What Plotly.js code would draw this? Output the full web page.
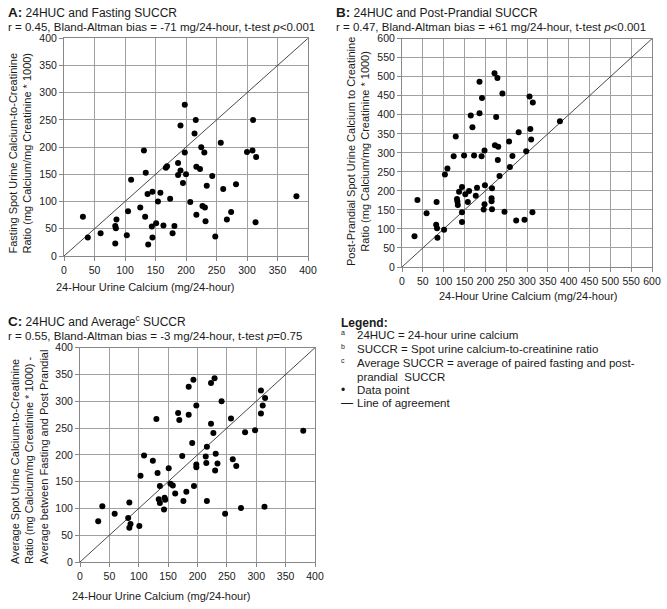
<!DOCTYPE html>
<html>
<head>
<meta charset="utf-8">
<script src="https://cdn.plot.ly/plotly-3.0.1.min.js"></script>
<style>
html,body{margin:0;padding:0;background:#fff;}
#chart{width:667px;height:609px;}
</style>
</head>
<body>
<div id="chart"></div>
<script>
// ---------- Data ----------
// Panel A: 24-hour urine calcium vs fasting SUCCR
const huc24A = [31,39,60,84,86,84,85,103,105,110,125,131,133,134,137,138,144,145,145,151,154,158,163,167,169,174,178,181,187,187,191,191,195,198,198,200,207,214,216,217,217,223,225,227,230,231,232,234,243,248,257,261,267,274,282,300,309,310,314,315,381];
const fastingSuccr = [72,34,42,23,67,55,51,38,82,140,89,194,72,153,114,21,54,118,34,60,100,116,56,162,165,105,42,55,171,149,240,157,134,278,190,150,99,225,250,164,76,160,200,92,190,89,64,129,147,36,208,123,67,81,132,191,194,250,62,182,110];

// Panel B: 24-hour urine calcium vs post-prandial SUCCR
const huc24B = [30,37,59,83,82,84,85,101,103,109,124,129,132,133,134,137,144,144,144,149,152,158,161,165,169,173,177,180,186,186,191,192,196,198,199,198,216,215,215,216,222,229,226,223,231,230,234,241,246,257,259,265,274,280,294,298,306,308,310,313,314,379];
const postPrandialSuccr = [81,176,141,171,111,102,77,98,243,259,291,343,179,172,163,198,210,144,118,293,191,171,200,398,367,293,187,208,487,404,291,444,151,306,215,165,207,181,173,152,509,497,394,320,316,281,239,456,145,330,263,292,122,354,124,304,448,363,335,144,432,383];

// Panel C: 24-hour urine calcium vs average SUCCR
const huc24C = [31,38,59,84,82,84,86,101,103,109,124,130,132,134,136,136,143,144,145,151,154,158,162,167,169,174,176,181,185,185,191,193,194,198,198,198,216,214,215,216,223,229,223,227,231,234,230,241,247,257,260,266,274,281,298,308,308,311,315,314,380];
const averageSuccr = [76,104,90,111,82,64,71,67,161,199,189,267,166,117,110,142,98,120,116,175,146,143,128,278,265,198,114,131,327,275,222,340,142,292,182,177,215,197,185,114,334,343,258,241,202,184,171,300,90,268,192,179,101,242,246,277,320,292,306,103,245];

// Axis extents / ticks
const axisMaxAC = 400;
const axisMaxB = 600;
const tickStep = 50;

// Texts
const titleA1 = "<b><span style=\"font-size:13.5px\">A:</span></b> 24HUC and Fasting SUCCR";
const titleA2 = "r = 0.45, Bland-Altman bias = -71 mg/24-hour, t-test <i>p</i>&lt;0.001";
const titleB1 = "<b><span style=\"font-size:13.5px\">B:</span></b> 24HUC and Post-Prandial SUCCR";
const titleB2 = "r = 0.47, Bland-Altman bias = +61 mg/24-hour, t-test <i>p</i>&lt;0.001";
const titleC1 = "<b><span style=\"font-size:13.5px\">C:</span></b> 24HUC and Average<sup>c</sup> SUCCR";
const titleC2 = "r = 0.55, Bland-Altman bias = -3 mg/24-hour, t-test <i>p</i>=0.75";
const xTitle = "24-Hour Urine Calcium (mg/24-hour)";
const yTitleA = "Fasting Spot Urine Calcium-to-Creatinine<br>Ratio (mg Calcium/mg Creatinine * 1000)";
const yTitleB = "Post-Prandial Spot Urine Calcium to Creatinine<br>Ratio (mg Calcium/mg Creatinine * 1000)";
const yTitleC = "Average Spot Urine Calcium-to-Creatinine<br>Ratio (mg Calcium/mg Creatinine * 1000) -<br>Average between Fasting and Post Prandial";
const legendTitle = "<b>Legend:</b>";
const legendMarks = ["a","b","c","","•","—"];
const legendLines = ["24HUC = 24-hour urine calcium","SUCCR = Spot urine calcium-to-creatinine ratio","Average SUCCR = average of paired fasting and post-","prandial  SUCCR","Data point","Line of agreement"];

// ---------- Layout helpers ----------
const W = 667, H = 609;
const FONT = '"Liberation Sans", Arial, Helvetica, sans-serif';
const TXT = '#1a1a1a';
const px = v => v / W;
const py = v => 1 - v / H;

function axisStyle(max, domain, anchor) {
  return {
    domain: domain, anchor: anchor, range: [0, max], dtick: tickStep, tick0: 0,
    showgrid: true, gridcolor: '#a0a0a0', gridwidth: 1,
    showline: true, mirror: true, linecolor: '#888', linewidth: 1,
    ticks: 'outside', ticklen: 4, tickcolor: '#888',
    tickfont: {family: FONT, size: 10.5, color: TXT},
    zeroline: false, fixedrange: true
  };
}

const traces = [];
function addPanel(xs, ys, max, xa, ya) {
  traces.push({type:'scatter', mode:'lines', x:[0, max], y:[0, max], xaxis:xa, yaxis:ya,
    line:{color:'#333', width:0.9}, hoverinfo:'skip'});
  traces.push({type:'scatter', mode:'markers', x:xs, y:ys, xaxis:xa, yaxis:ya,
    marker:{color:'#000', size:6}});
}
addPanel(huc24A, fastingSuccr, axisMaxAC, 'x', 'y');
addPanel(huc24B, postPrandialSuccr, axisMaxB, 'x2', 'y2');
addPanel(huc24C, averageSuccr, axisMaxAC, 'x3', 'y3');

const annotations = [];
function ann(text, x, y, o) {
  annotations.push(Object.assign({
    text: text, xref: 'paper', yref: 'paper', x: px(x), y: py(y),
    xanchor: 'left', yanchor: 'middle', showarrow: false,
    font: {family: FONT, size: 11.5, color: TXT}
  }, o || {}));
}
// panel titles
ann(titleA1, 6, 13, {font:{family:FONT,size:12,color:TXT}});
ann(titleA2, 6, 26.5);
ann(titleB1, 334, 13, {font:{family:FONT,size:12,color:TXT}});
ann(titleB2, 334, 26.5);
ann(titleC1, 6, 321, {font:{family:FONT,size:12,color:TXT}});
ann(titleC2, 6, 335.5);
// x-axis titles
ann(xTitle, 145.5, 287.5, {xanchor:'center', font:{family:FONT,size:11,color:TXT}});
ann(xTitle, 528, 296, {xanchor:'center', font:{family:FONT,size:11,color:TXT}});
ann(xTitle, 161.5, 596, {xanchor:'center', font:{family:FONT,size:11,color:TXT}});
// y-axis titles
ann(yTitleA, 20, 256, {textangle:-90, xanchor:'center', yanchor:'bottom', align:'left', font:{family:FONT,size:11,color:TXT}});
ann(yTitleB, 358, 152, {textangle:-90, xanchor:'center', yanchor:'middle', align:'center', font:{family:FONT,size:11,color:TXT}});
ann(yTitleC, 29, 566, {textangle:-90, xanchor:'center', yanchor:'bottom', align:'left', font:{family:FONT,size:11,color:TXT}});
// legend block
ann(legendTitle, 339, 322.5, {font:{family:FONT,size:12,color:TXT}});
const legY = [335, 349, 363, 376.5, 390, 403];
legendLines.forEach((t, i) => {
  const m = legendMarks[i];
  if (m) {
    const isSup = i < 3;
    ann(m, 339, legY[i] - (isSup ? 3 : 0), {font:{family:FONT,size:isSup ? 7 : 12,color:TXT}});
  }
  ann(t, 355, legY[i], {font:{family:FONT,size:11.5,color:TXT}});
});

const layout = {
  width: W, height: H, margin: {l:0, r:0, t:0, b:0},
  paper_bgcolor: '#fff', plot_bgcolor: '#fff', showlegend: false,
  font: {family: FONT, color: TXT},
  xaxis: axisStyle(axisMaxAC, [px(64), px(308)], 'y'),
  yaxis: axisStyle(axisMaxAC, [py(256), py(38.3)], 'x'),
  xaxis2: axisStyle(axisMaxB, [px(402), px(652)], 'y2'),
  yaxis2: axisStyle(axisMaxB, [py(267), py(38.7)], 'x2'),
  xaxis3: axisStyle(axisMaxAC, [px(80), px(315)], 'y3'),
  yaxis3: axisStyle(axisMaxAC, [py(562), py(347.7)], 'x3'),
  annotations: annotations
};

Plotly.newPlot('chart', traces, layout, {displayModeBar: false, staticPlot: true});
</script>
</body>
</html>
